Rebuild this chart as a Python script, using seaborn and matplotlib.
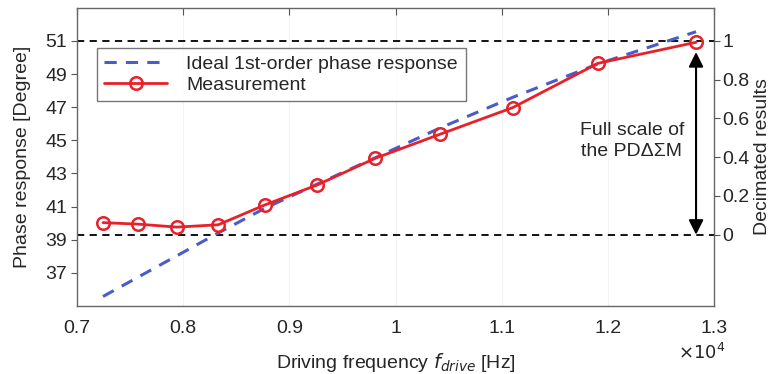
import matplotlib
matplotlib.use("Agg")
import matplotlib.pyplot as plt
import seaborn as sns
import pandas as pd

# ---- Data (frequency in units of 1e4 Hz) ----
meas_freq = [0.7245, 0.7574, 0.794, 0.833, 0.877, 0.926, 0.981, 1.042, 1.1105, 1.1906, 1.283]
meas_phase = [40.03, 39.94, 39.76, 39.9, 41.1, 42.3, 43.92, 45.37, 46.98, 49.65, 50.92]
ideal_freq = [0.7245, 0.83, 0.877, 0.926, 0.981, 1.042, 1.1105, 1.19, 1.283]
ideal_phase = [35.57, 39.3, 40.9, 42.35, 43.95, 45.75, 47.6, 49.6, 51.56]
scale_low = 39.3    # phase where decimated result = 0
scale_high = 51.0   # phase where decimated result = 1
x_ticks = [0.7, 0.8, 0.9, 1.0, 1.1, 1.2, 1.3]
x_ticklabels = ["0.7", "0.8", "0.9", "1", "1.1", "1.2", "1.3"]
y_ticks = [37, 39, 41, 43, 45, 47, 49, 51]
r_ticks = [0, 0.2, 0.4, 0.6, 0.8, 1]
r_ticklabels = ["0", "0.2", "0.4", "0.6", "0.8", "1"]

FS = 14

sns.set_style("white")
plt.rcParams['font.family'] = ['Liberation Sans', 'DejaVu Sans']

fig = plt.figure(figsize=(7.72, 3.74), dpi=100)
ax = fig.add_axes([0.0997, 0.182, 0.8253, 0.797])

ideal = pd.DataFrame({"f": ideal_freq, "p": ideal_phase})
meas = pd.DataFrame({"f": meas_freq, "p": meas_phase})

sns.lineplot(data=ideal, x="f", y="p", ax=ax, color="#4a5cc9", lw=2.2,
             linestyle=(0, (4, 3)), label="Ideal 1st-order phase response")
sns.lineplot(data=meas, x="f", y="p", ax=ax, color="#e8202a", lw=2,
             marker="o", markersize=9, markerfacecolor="none",
             markeredgecolor="#e8202a", markeredgewidth=1.8, label="Measurement")

# full scale boundaries
ax.axhline(scale_high, color="black", lw=1.3, linestyle=(0, (4, 3)), zorder=1)
ax.axhline(scale_low, color="black", lw=1.3, linestyle=(0, (4, 3)), zorder=1)

ax.set_xlim(0.7, 1.3)
ax.set_ylim(35, 53)
ax.set_xticks(x_ticks)
ax.set_xticklabels(x_ticklabels)
ax.set_yticks(y_ticks)
ax.grid(axis="x", color="#f2f2f2", lw=0.8)
ax.tick_params(axis="x", direction="in", labelsize=FS, length=5,
               color="#555555", top=True, pad=10)
ax.tick_params(axis="y", direction="out", labelsize=FS, length=4,
               color="#555555", pad=3)
for s in ax.spines.values():
    s.set_color("#666666")
    s.set_linewidth(1.0)

ax.set_xlabel(r"Driving frequency $f_{drive}$ [Hz]", fontsize=FS, labelpad=10)
ax.set_ylabel("Phase response [Degree]", fontsize=FS, labelpad=10)
ax.text(0.943, -0.125, r"$\times10^{4}$", fontsize=FS - 1, ha="left", va="top",
        transform=ax.transAxes)

# right axis: decimated results
ax2 = ax.twinx()
span = scale_high - scale_low
ax2.set_ylim((35 - scale_low) / span, (53 - scale_low) / span)
ax2.set_yticks(r_ticks)
ax2.set_yticklabels(r_ticklabels)
ax2.tick_params(axis="y", direction="out", labelsize=FS, length=4, color="#555555", pad=2)
for s in ax2.spines.values():
    s.set_visible(False)
ax2.set_ylabel("Decimated results", fontsize=FS, labelpad=3)

# full-scale arrow and label
ax.annotate("", xy=(1.283, scale_low), xytext=(1.283, scale_high),
            arrowprops=dict(arrowstyle="<|-|>", color="black", lw=1.5,
                            mutation_scale=22, shrinkA=8, shrinkB=0))
ax.text(1.2226, 44.96, "Full scale of\nthe PD\u0394\u03a3M", fontsize=FS,
        ha="center", va="center", linespacing=1.3)

leg = ax.legend(loc="upper left", bbox_to_anchor=(0.031, 0.866), fontsize=FS,
                frameon=True, fancybox=False, edgecolor="#555555",
                handlelength=3.2, handletextpad=1.0, borderpad=0.4,
                labelspacing=0.15, borderaxespad=0)
leg.get_frame().set_linewidth(1.0)

fig.savefig("out.png", dpi=100)
